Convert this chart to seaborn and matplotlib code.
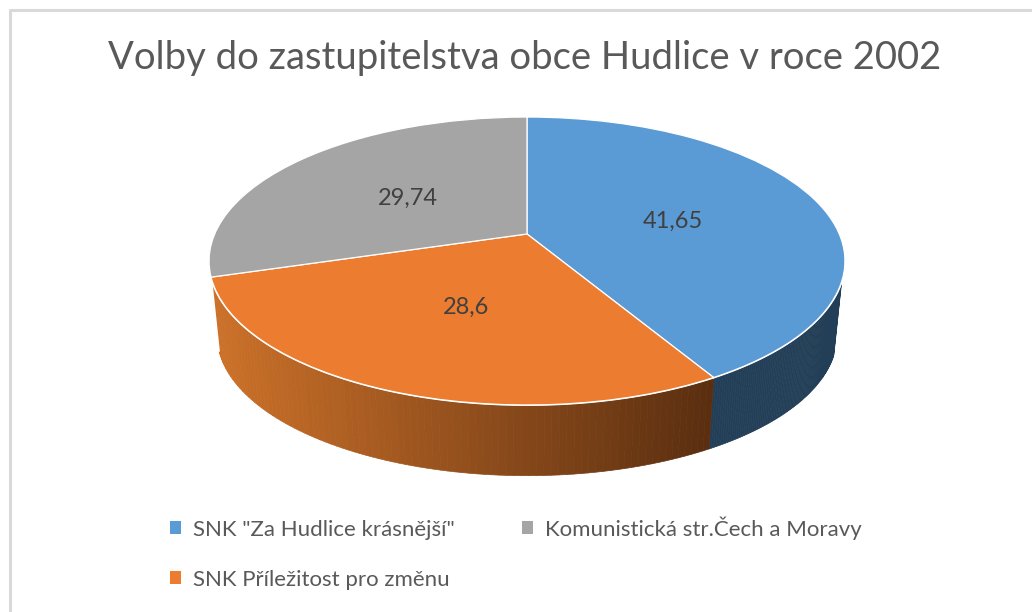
import numpy as np
import matplotlib
matplotlib.use("Agg")
import matplotlib.pyplot as plt
import seaborn as sns
from matplotlib.collections import PolyCollection
from matplotlib.colors import to_rgb
from matplotlib.lines import Line2D
from matplotlib.patches import Patch
from matplotlib.transforms import Transform

title = "Volby do zastupitelstva obce Hudlice v roce 2002"
parties = ['SNK "Za Hudlice krásnější"', "SNK Příležitost pro změnu", "Komunistická str.Čech a Moravy"]
shares = [41.65, 28.6, 29.74]
share_labels = ["41,65", "28,6", "29,74"]

top_colors = ["#5B9BD5", "#EB7C30", "#A5A5A5"]
BLUE_SIDE = "#233F57"
ORANGE_SIDE_L, ORANGE_SIDE_R = "#CC7129", "#5A2E10"
TXT = "#595959"

sns.set_theme(style="white")
plt.rcParams["font.family"] = ["Lato", "DejaVu Sans"]

CX, CY, R, S, K = 527.0, 234.0, 312.3, 138.9, 0.1875
SX, SY, DEPTH = 0.975, 0.975, 75.0


class Tilt(Transform):
    """Perspective view of the unit-circle pie onto figure pixels."""
    input_dims = output_dims = 2
    is_separable = False
    has_inverse = False

    def transform_non_affine(self, values):
        v = np.asarray(values, dtype=float)
        w = 1 + K * v[:, 1]
        return np.column_stack([CX + R * v[:, 0] / w, CY - S * v[:, 1] / w])


def rim(theta_deg):
    t = np.radians(theta_deg)
    return Tilt().transform_non_affine(np.column_stack([np.cos(t), np.sin(t)]))


def lower(pts):
    return np.column_stack([CX + SX * (pts[:, 0] - CX), CY + SY * (pts[:, 1] - CY) + DEPTH])


fig = plt.figure(figsize=(10.32, 6.12), dpi=100, facecolor="white")
ax = fig.add_axes([0, 0, 1, 1])
wedges, _ = ax.pie(
    shares, colors=top_colors, startangle=90, counterclock=False, labeldistance=None,
    wedgeprops={"transform": Tilt() + ax.transData, "edgecolor": "white", "linewidth": 0.9, "zorder": 3},
)
ax.set_aspect("auto")
ax.set_xlim(0, 1032)
ax.set_ylim(612, 0)
ax.axis("off")


def side(th_a, th_b, c_fn, n=90):
    th = np.linspace(th_a, th_b, n + 1)
    up = rim(th)
    lo = lower(up)
    polys, cols = [], []
    for i in range(n):
        polys.append([up[i], up[i + 1], lo[i + 1], lo[i]])
        cols.append(c_fn(0.5 * (up[i, 0] + up[i + 1, 0])))
    ax.add_collection(PolyCollection(polys, facecolors=cols, edgecolors=cols, linewidths=0.5, zorder=1))
    return up, lo


def orange_grad(x):
    f = np.clip((x - 212) / (713 - 212), 0, 1)
    a, b = np.array(to_rgb(ORANGE_SIDE_L)), np.array(to_rgb(ORANGE_SIDE_R))
    return tuple(a + f * (b - a))


# sides only exist on the near half of the rim
blue, orange = wedges[0], wedges[1]
up_b, lo_b = side(-18.7, blue.theta1, lambda x: BLUE_SIDE)
up_o, lo_o = side(orange.theta1, orange.theta2, orange_grad)
ax.plot([up_o[0, 0], lo_o[0, 0]], [up_o[0, 1], lo_o[0, 1]], color="white", lw=1.3, zorder=2)
ax.plot(up_b[:, 0], up_b[:, 1], color="white", lw=1.4, zorder=2)
ax.plot(up_o[:, 0], up_o[:, 1], color="white", lw=1.4, zorder=2)

label_xy = [(673, 221), (466, 307), (408, 198)]
for (x, y), s in zip(label_xy, share_labels):
    ax.text(x, y, s, ha="center", va="center", fontsize=17, color="#404040")

fig.text(525 / 1032, 1 - 58 / 612, title, ha="center", va="center", fontsize=27.5, color=TXT)

handles = [Patch(facecolor=c, edgecolor="none") for c in top_colors]
fig.legend(
    handles, parties, ncol=2, loc="upper left", bbox_to_anchor=(170 / 1032, 1 - 516 / 612),
    frameon=False, fontsize=16, labelcolor=TXT, handlelength=0.5, handleheight=0.5,
    handletextpad=0.55, columnspacing=3.0, labelspacing=1.35, borderpad=0, borderaxespad=0,
)

for xs, ys in [((9.5, 1032), (10, 10)), ((9.5, 9.5), (10, 612))]:
    fig.add_artist(Line2D(np.array(xs) / 1032, 1 - np.array(ys) / 612, color="#D9D9D9", lw=2.2))

fig.savefig("out.png", dpi=100)
